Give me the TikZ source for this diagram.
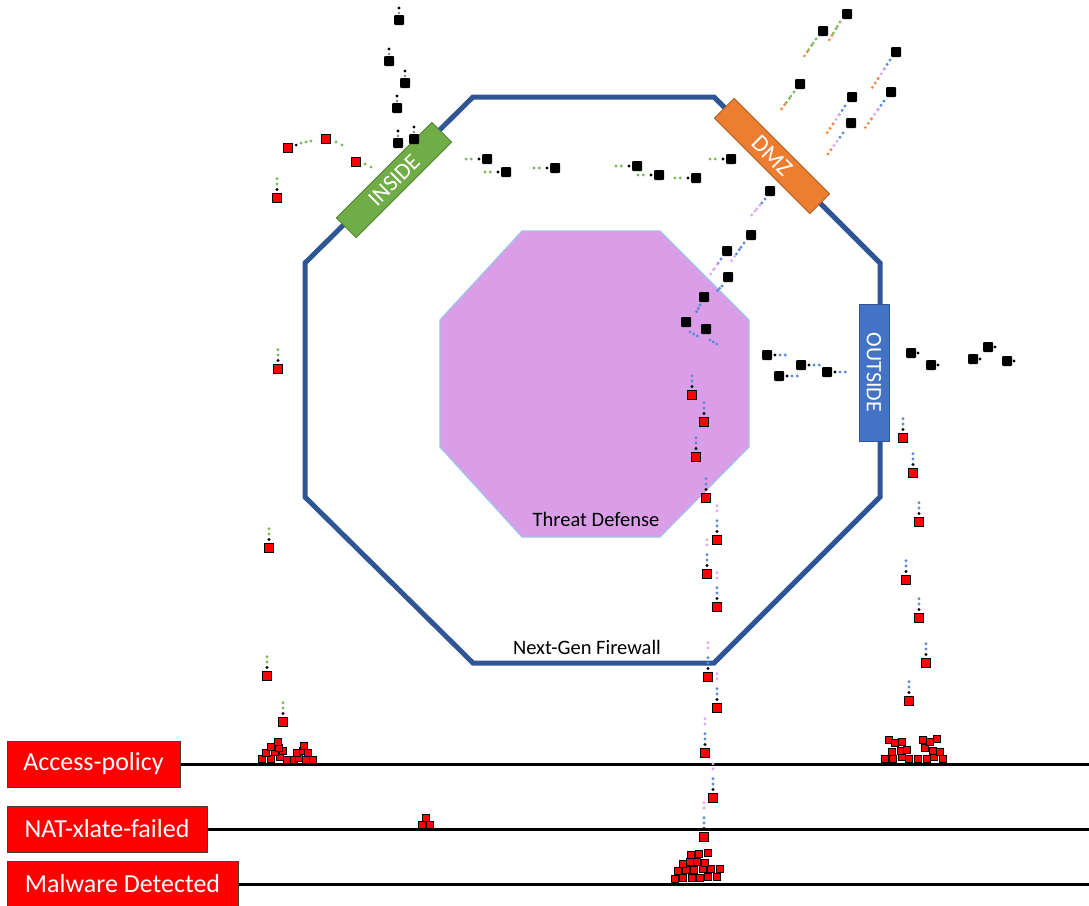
\documentclass[tikz,border=0pt]{standalone}
\usepackage{fontspec}
\setmainfont{Carlito}
\definecolor{fwblue}{HTML}{2F5597}
\definecolor{tdpink}{HTML}{DA9EE8}
\definecolor{tdedge}{HTML}{9DC3E6}
\definecolor{ingreen}{HTML}{70AD47}
\definecolor{dmzorange}{HTML}{ED7D31}
\definecolor{outblue}{HTML}{4472C4}
\definecolor{dotgreen}{HTML}{7DB85A}
\definecolor{dotblue}{HTML}{5B8BD6}
\definecolor{dotpink}{HTML}{E3A8F0}
\definecolor{dotorange}{HTML}{F08A40}
\begin{document}
\begin{tikzpicture}[x=1pt, y=-1pt,
    pkt/.style={fill=black, rounded corners=1pt},
    bad/.style={fill=red, draw=black, line width=1.1pt},
    trail/.style={line width=3.2pt, line cap=round, dash pattern=on 0pt off 5.2pt},
    port/.style={draw=#1!75!black, fill=#1, text=white, line width=0.8pt,
        minimum width=135, minimum height=28, inner sep=0pt},
    lbl/.style={draw=black!75, fill=red, text=white, line width=1pt,
        minimum height=46, inner sep=0pt, font=\fontsize{26}{30}\selectfont}]
    \useasboundingbox (0,0) rectangle (1089,905);

    % 防火墙外框
    \draw[fwblue, line width=5pt]
        (473,97) -- (714,97) -- (880,263) -- (880,497) -- (714,663)
        -- (473,663) -- (305,497) -- (305,263) -- cycle;
    \node (ngfw) at (587,647) {\fontsize{20.5}{24}\selectfont Next-Gen Firewall};

    % 威胁防御区域
    \filldraw[fill=tdpink, draw=tdedge, line width=1.2pt]
        (522,231) -- (660,231) -- (749,320) -- (749,447) -- (660,537)
        -- (522,537) -- (440,447) -- (440,320) -- cycle;
    \node (td) at (596,519) {\fontsize{20.5}{24}\selectfont Threat Defense};

    % 接口
    \node[port=ingreen, rotate=45] (inside) at (394,180) {\fontsize{23}{26}\selectfont INSIDE};
    \node[port=dmzorange, rotate=-45] (dmz) at (772,156) {\fontsize{24}{28}\selectfont DMZ};
    \node[port=outblue, rotate=-90, minimum width=137, minimum height=30] (outside)
        at (874,372.5) {\fontsize{22}{26}\selectfont OUTSIDE};

    % 丢弃原因 + 横线
    \node[lbl, minimum width=173] (acc) at (93.5,764) {Access-policy};
    \node[lbl, minimum width=200] (nat) at (107,829) {NAT-xlate-failed};
    \node[lbl, minimum width=231] (mal) at (122.5,884) {Malware Detected};
    \coordinate (accEnd) at (1089,764);
    \coordinate (natEnd) at (1089,829);
    \coordinate (malEnd) at (1089,884);
    \draw[line width=3pt] (acc.east) -- (accEnd);
    \draw[line width=3pt] (nat.east) -- (natEnd);
    \draw[line width=3pt] (mal.east) -- (malEnd);

    % 黑色数据包：INSIDE 上方，竖直
    \foreach \x/\y in {399/20, 389/61, 405/83, 397/108, 398/143, 414/139} {
        \fill (\x,\y-12) circle (1.7);
        \fill[gray] (\x,\y-7) circle (1.3);
        \fill[pkt] (\x-5,\y-5) rectangle (\x+5,\y+5);
    }

    % 黑色数据包：INSIDE 到 DMZ，绿色尾迹
    \foreach \x/\y in {487/159, 506/172, 555/168, 637/166, 659/175, 696/178, 731/159} {
        \draw[trail, dotgreen] (\x-21,\y) -- (\x-15,\y);
        \fill (\x-8,\y) circle (1.7);
        \fill[pkt] (\x-5,\y-5) rectangle (\x+5,\y+5);
    }

    % 黑色数据包：斜向尾迹（近 / 中 / 远三段颜色）
    \foreach \x/\y/\a/\b/\c/\d/\ca/\cb/\cc in {
        847/14/840/22/828/42/dotgreen/dotgreen/dotorange,
        823/31/816/39/803/58/dotgreen/dotgreen/dotorange,
        896/52/890/60/872/88/dotblue/dotpink/dotorange,
        800/84/794/92/780/111/dotgreen/dotgreen/dotorange,
        852/97/845/106/827/133/dotblue/dotpink/dotorange,
        891/92/884/101/865/128/dotblue/dotpink/dotorange,
        851/123/843/133/825/158/dotblue/dotpink/dotorange,
        770/191/765/199/750/217/dotblue/dotpink/dotpink,
        751/235/744/243/730/263/dotblue/dotblue/dotpink,
        727/251/721/259/710/275/dotblue/dotpink/dotpink,
        728/277/722/286/715/293/dotblue/dotblue/dotblue,
        704/297/700/305/695/315/dotblue/dotblue/dotblue,
        686/322/690/332/701/338/dotblue/dotblue/dotblue,
        706/329/710/340/720/346/dotblue/dotblue/dotblue} {
        \draw[trail, \ca] (\a,\b) -- ({\a+(\c-\a)/3},{\b+(\d-\b)/3});
        \draw[trail, \cb] ({\a+(\c-\a)/3},{\b+(\d-\b)/3}) -- ({\a+2*(\c-\a)/3},{\b+2*(\d-\b)/3});
        \draw[trail, \cc] ({\a+2*(\c-\a)/3},{\b+2*(\d-\b)/3}) -- (\c,\d);
        \fill[pkt] (\x-5,\y-5) rectangle (\x+5,\y+5);
    }

    % 黑色数据包：OUTSIDE 内侧，蓝色尾迹
    \foreach \x/\y in {767/355, 801/365, 779/376, 827/372} {
        \fill (\x+8,\y) circle (1.7);
        \draw[trail, dotblue] (\x+13,\y) -- (\x+19,\y);
        \fill[pkt] (\x-5,\y-5) rectangle (\x+5,\y+5);
    }

    % 黑色数据包：OUTSIDE 外侧
    \foreach \x/\y in {911/353, 931/365, 973/359, 988/347, 1007/361} {
        \fill (\x+7,\y) circle (1.7);
        \fill[pkt] (\x-5,\y-5) rectangle (\x+5,\y+5);
    }

    % 红色数据包：INSIDE 附近（弯曲尾迹）
    \fill (296,145) circle (1.5);
    \foreach \p in {(301,143), (306,142), (311,141), (336,142), (342,145), (365,164), (371,167)}
        \fill[dotgreen] \p circle (1.6);
    \foreach \x/\y in {288/148, 326/139, 356/162}
        \filldraw[bad] (\x-4.3,\y-4.3) rectangle (\x+4.3,\y+4.3);

    % 红色数据包：竖直下落
    \foreach \x/\y/\c in {277/198/dotgreen, 278/369/dotgreen, 269/548/dotgreen,
        267/676/dotgreen, 283/722/dotgreen,
        692/395/dotblue, 704/422/dotblue, 696/457/dotblue, 706/498/dotblue,
        717/540/dotblue, 707/574/dotblue, 717/607/dotblue, 708/677/dotblue,
        717/708/dotblue, 705/753/dotblue, 713/798/dotblue, 704/837/dotblue,
        903/438/dotblue, 913/473/dotblue, 919/522/dotblue, 906/580/dotblue,
        919/618/dotblue, 926/663/dotblue, 909/701/dotblue} {
        \fill (\x,\y-8.5) circle (1.7);
        \draw[trail, \c] (\x,\y-14) -- (\x,\y-24);
        \filldraw[bad] (\x-4.3,\y-4.3) rectangle (\x+4.3,\y+4.3);
    }
    \foreach \x/\y in {717/540, 707/574, 717/607, 708/677, 717/708, 705/753, 713/798, 704/837}
        \draw[trail, dotpink] (\x,\y-29) -- (\x,\y-35);

    % 堆积的红色数据包
    \foreach \x/\y in {262/759, 271/759, 280/757, 287/760, 294/760, 299/758, 306/760, 313/760,
        266/753, 275/752, 283/751, 297/753, 303/751, 308/753, 271/747, 279/748, 304/746, 278/742,
        885/759, 893/759, 902/757, 909/759, 892/752, 901/751, 907/750, 889/740, 895/743, 902/742,
        918/759, 927/759, 934/757, 943/759, 925/748, 933/751, 940/752, 923/740, 930/742, 937/739,
        422/825, 430/825, 426/818,
        675/879, 683/878, 692/878, 700/878, 708/877, 717/877,
        678/871, 686/870, 694/870, 703/869, 711/869, 720/869,
        683/864, 690/862, 697/862, 705/863, 691/855, 699/854, 708/853}
        \filldraw[bad, line width=0.9pt] (\x-3.8,\y-3.8) rectangle (\x+3.8,\y+3.8);
\end{tikzpicture}
\end{document}
